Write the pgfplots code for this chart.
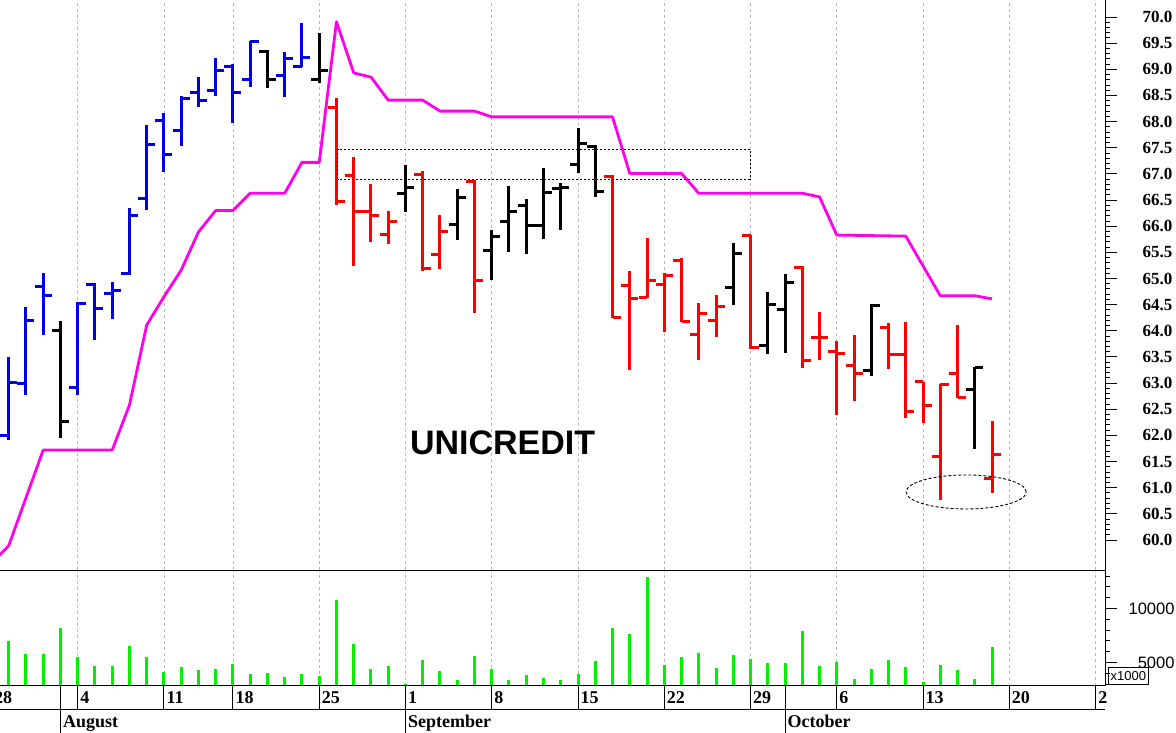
\documentclass[border=0pt]{standalone}
\usepackage{fontspec}
\setmainfont{Liberation Serif}
\newfontfamily\arial{Liberation Sans}
\usepackage{pgfplots}
\usepackage{pgfplotstable}
\pgfplotsset{compat=1.18}

\definecolor{cblue}{RGB}{0,0,228}
\definecolor{cred}{RGB}{255,0,0}
\definecolor{cmag}{RGB}{255,0,235}
\definecolor{cgreen}{RGB}{0,240,0}
\definecolor{cgrid}{RGB}{185,185,185}

\pgfdeclareplotmark{openL}{\pgfpathmoveto{\pgfqpoint{-8.5pt}{0pt}}\pgfpathlineto{\pgfqpoint{0pt}{0pt}}\pgfusepathqstroke}
\pgfdeclareplotmark{closeR}{\pgfpathmoveto{\pgfqpoint{0pt}{0pt}}\pgfpathlineto{\pgfqpoint{8.5pt}{0pt}}\pgfusepathqstroke}

\newcommand\datefont{\fontsize{18}{18}\selectfont\bfseries}
\newcommand\dsep[1]{\draw[black, line width=1pt] (axis cs:#1,2870) -- ([yshift=-23.5pt]axis cs:#1,2870);}
\newcommand\msep[1]{\draw[black, line width=1pt] (axis cs:#1,2870) -- ([yshift=-47pt]axis cs:#1,2870);}
\newcommand\dlab[2]{\node[anchor=base west, inner sep=0pt, font=\datefont] at ([xshift=2.5pt,yshift=-17.5pt]axis cs:#1,2870) {#2};}
\newcommand\mlab[2]{\node[anchor=base west, inner sep=0pt, font=\datefont] at ([xshift=2.5pt,yshift=-41.5pt]axis cs:#1,2870) {#2};}

% OHLC data: x = trading-day index (0 = Mon 4 Aug)
\pgfplotstableread{
x o h l c
-4 61.99 63.50 61.91 63.02
-3 63.00 64.46 62.77 64.19
-2 64.84 65.10 63.92 64.68
0 62.92 64.56 62.77 64.53
1 64.88 64.91 63.82 64.43
2 64.72 64.94 64.22 64.77
3 65.09 66.35 65.07 66.21
4 66.52 67.93 66.31 67.57
5 68.02 68.16 67.04 67.37
6 67.83 68.48 67.54 68.45
7 68.55 68.86 68.28 68.41
8 68.60 69.21 68.49 68.97
9 69.05 69.10 67.98 68.55
10 68.81 69.55 68.66 69.53
12 68.89 69.34 68.48 69.21
13 69.06 69.88 69.05 69.23
}\bluedata

\pgfplotstableread{
x o h l c
-1 64.00 64.19 61.95 62.26
11 69.34 69.37 68.64 68.81
14 68.81 69.69 68.74 68.97
19 66.63 67.17 66.28 66.74
22 66.04 66.72 65.74 66.55
24 65.53 65.93 64.98 65.80
25 66.09 66.76 65.51 66.28
26 66.39 66.52 65.47 66.02
27 66.02 67.12 65.75 66.64
28 66.72 66.82 65.93 66.74
29 67.18 67.87 67.01 67.59
30 67.53 67.55 66.56 66.66
38 64.83 65.68 64.49 65.48
40 63.71 64.75 63.56 64.50
41 64.40 65.09 63.58 64.92
46 63.25 64.51 63.14 64.49
52 62.87 63.30 61.75 63.30
}\blackdata

\pgfplotstableread{
x o h l c
15 68.27 68.45 66.41 66.47
16 66.97 67.33 65.23 66.28
17 66.28 66.81 65.70 66.20
18 65.85 66.29 65.65 66.09
20 66.99 67.06 65.15 65.19
21 65.46 66.21 65.19 65.90
23 66.85 66.88 64.35 64.96
31 66.95 66.98 64.24 64.26
32 64.86 65.15 63.26 64.62
33 64.63 65.78 64.62 64.97
34 64.89 65.11 63.98 65.05
35 65.35 65.39 64.16 64.17
36 63.92 64.54 63.45 64.33
37 64.19 64.68 63.88 64.47
39 65.82 65.83 63.66 63.68
42 65.21 65.23 63.28 63.44
43 63.88 64.35 63.44 63.88
44 63.60 63.81 62.39 63.56
45 63.33 63.92 62.66 63.19
47 64.06 64.14 63.26 63.54
48 63.54 64.16 62.33 62.45
49 63.03 63.03 62.24 62.58
50 61.59 62.98 60.77 62.98
51 63.19 64.11 62.71 62.73
53 61.17 62.28 60.90 61.64
}\reddata

% trailing stop line
\pgfplotstableread{
x p
-5 59.55
-4 59.89
-2 61.72
2 61.72
3 62.58
4 64.11
5 64.65
6 65.16
7 65.89
8 66.30
9 66.30
10 66.63
12 66.63
13 67.22
14 67.22
15 69.91
16 68.93
17 68.85
18 68.41
20 68.41
21 68.20
23 68.20
24 68.09
31 68.09
32 67.01
35 67.01
36 66.63
42 66.63
43 66.56
44 65.83
48 65.81
50 64.67
52 64.67
53 64.61
}\stopdata

% volume (x1000)
\pgfplotstableread{
x v
-4 7028
-3 5778
-2 5778
-1 8176
0 5528
1 4694
2 4694
3 6565
4 5472
5 4130
6 4593
7 4315
8 4435
9 4842
10 3917
11 4009
12 3667
13 3917
14 3759
15 10824
16 6713
17 4435
18 4694
19 2980
20 5250
21 4167
22 3389
23 5630
24 4435
25 3389
26 3880
27 3537
28 3389
29 3917
30 5157
31 8176
32 7648
33 12880
34 4787
35 5472
36 5870
37 4537
38 5713
39 5315
40 4944
41 4944
42 7898
43 4630
44 5065
45 3509
46 4435
47 5222
48 4593
49 3231
50 4787
51 4287
52 3509
53 6398
}\voldata

\pgfplotsset{
  ohlcbars/.style={only marks, mark=none, mark size=0pt, mark options={draw=none, fill=none}, forget plot,
    error bars/.cd, y dir=both, y explicit, error mark=none,
    error bar style={line width=3pt, draw=#1, solid}},
  opentick/.style={only marks, mark=openL, forget plot, #1, mark options={line width=3pt, #1, solid}},
  closetick/.style={only marks, mark=closeR, forget plot, #1, mark options={line width=3pt, #1, solid}},
}

\begin{document}
\begin{tikzpicture}
\useasboundingbox (0,0) rectangle (1176pt,732pt);

% ---------- price panel ----------
\begin{axis}[
  at={(0pt,162pt)}, anchor=south west,
  scale only axis, width=1105pt, height=570pt,
  xmin=-4.504, xmax=59.55, ymin=59.426, ymax=70.325,
  axis line style={draw=none},
  xtick={-5,0,5,9,14,19,24,29,34,39,44,49,54,59},
  xticklabels={},
  every major x tick/.append style={draw=none},
  xmajorgrids,
  major grid style={cgrid, line width=0.9pt, dash pattern=on 3pt off 3pt},
  ytick={60,60.5,...,70.1}, minor y tick num=4,
  ytick pos=right, yticklabel pos=right,
  tick align=outside, major tick length=12pt, minor tick length=5pt,
  tick style={black, line width=0.9pt},
  yticklabel style={font=\fontsize{17}{17}\selectfont\bfseries, anchor=west, xshift=22pt,
    /pgf/number format/.cd, fixed, fixed zerofill, precision=1, assume math mode=true},
  clip mode=individual,
]
\addplot[cmag, line width=2.8pt, line join=round] table[x=x, y=p] {\stopdata};

\addplot[ohlcbars=cblue] table[x=x, y expr={(\thisrow{h}+\thisrow{l})/2}, y error expr={(\thisrow{h}-\thisrow{l})/2}] {\bluedata};
\addplot[opentick=cblue] table[x=x, y=o] {\bluedata};
\addplot[closetick=cblue] table[x=x, y=c] {\bluedata};

\addplot[ohlcbars=black] table[x=x, y expr={(\thisrow{h}+\thisrow{l})/2}, y error expr={(\thisrow{h}-\thisrow{l})/2}] {\blackdata};
\addplot[opentick=black] table[x=x, y=o] {\blackdata};
\addplot[closetick=black] table[x=x, y=c] {\blackdata};

\addplot[ohlcbars=cred] table[x=x, y expr={(\thisrow{h}+\thisrow{l})/2}, y error expr={(\thisrow{h}-\thisrow{l})/2}] {\reddata};
\addplot[opentick=cred] table[x=x, y=o] {\reddata};
\addplot[closetick=cred] table[x=x, y=c] {\reddata};

\draw[black, line width=0.9pt, dash pattern=on 2pt off 2pt] (axis cs:15.07,66.897) rectangle (axis cs:38.97,67.47);
\draw[black, line width=0.9pt, dash pattern=on 3pt off 2pt] (axis cs:51.5,60.918) ellipse [x radius=60pt, y radius=17pt];
\node[inner sep=0pt, font=\arial\fontsize{34}{34}\selectfont\bfseries] at (axis cs:24.63,61.855) {UNICREDIT};
\draw[black, line width=1pt] (rel axis cs:1,0) -- (rel axis cs:1,1);
\end{axis}

% ---------- volume panel ----------
\begin{axis}[
  at={(0pt,46.5pt)}, anchor=south west,
  scale only axis, width=1105pt, height=115.5pt,
  xmin=-4.504, xmax=59.55, ymin=2870, ymax=13565,
  axis line style={draw=none},
  xtick={-5,0,5,9,14,19,24,29,34,39,44,49,54,59},
  xticklabels={},
  every major x tick/.append style={draw=none},
  xmajorgrids,
  major grid style={cgrid, line width=0.9pt, dash pattern=on 3pt off 3pt},
  ytick={5000,10000},
  minor ytick={3000,4000,6000,7000,8000,9000,11000,12000,13000},
  ytick pos=right, yticklabel pos=right,
  tick align=outside, major tick length=12pt, minor tick length=5pt,
  tick style={black, line width=0.9pt},
  scaled y ticks=false,
  yticklabel style={font=\arial\fontsize{16.5}{16.5}\selectfont, anchor=east, xshift=61pt,
    /pgf/number format/.cd, fixed, precision=0, 1000 sep={}, assume math mode=true},
  clip mode=individual,
]
\addplot[ycomb, cgreen, line width=3pt] table[x=x, y=v] {\voldata};

\draw[black, line width=1pt] (rel axis cs:0,1) -- (rel axis cs:1,1) -- (rel axis cs:1,0) -- (rel axis cs:0,0);
\draw[black, line width=1pt] ([yshift=-23.5pt]rel axis cs:0,0) -- ([yshift=-23.5pt]rel axis cs:1,0);
% week separators (day row)
\dsep{-5}\dsep{0}\dsep{5}\dsep{9}\dsep{14}\dsep{24}\dsep{29}\dsep{34}\dsep{39}\dsep{44}\dsep{49}\dsep{54}\dsep{59}
% month separators (both rows)
\msep{-1}\msep{19}\msep{41}
% day labels
\dlab{-5}{28}\dlab{0}{4}\dlab{5}{11}\dlab{9}{18}\dlab{14}{25}\dlab{19}{1}\dlab{24}{8}
\dlab{29}{15}\dlab{34}{22}\dlab{39}{29}\dlab{44}{6}\dlab{49}{13}\dlab{54}{20}\dlab{59}{2}
% month labels
\mlab{-1}{August}\mlab{19}{September}\mlab{41}{October}
% multiplier box
\node[draw, line width=0.8pt, anchor=south west, inner sep=0pt, minimum width=40pt, minimum height=16.5pt,
  font=\arial\fontsize{13}{13}\selectfont] at ([xshift=3pt,yshift=1.2pt]rel axis cs:1,0) {x1000};
\end{axis}
\end{tikzpicture}
\end{document}
